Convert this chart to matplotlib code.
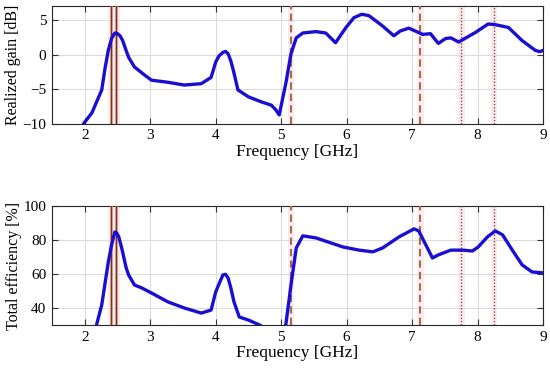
import numpy as np
import matplotlib
matplotlib.use('Agg')
import matplotlib.pyplot as plt

plt.rcParams['font.family'] = ['Liberation Serif', 'DejaVu Serif']
plt.rcParams['mathtext.fontset'] = 'stix'

# Realized gain [dB] vs frequency [GHz]
gain_freq = [1.98, 2.11, 2.26, 2.31, 2.36, 2.41, 2.46, 2.5, 2.54, 2.58, 2.62, 2.67,
             2.76, 2.92, 3.02, 3.27, 3.52, 3.78, 3.93, 4.0, 4.05, 4.11, 4.15, 4.19,
             4.23, 4.27, 4.34, 4.5, 4.69, 4.85, 4.92, 4.97, 5.07, 5.15, 5.23, 5.33,
             5.53, 5.68, 5.83, 5.99, 6.11, 6.23, 6.34, 6.55, 6.72, 6.82, 6.95, 7.16,
             7.28, 7.4, 7.51, 7.59, 7.71, 7.97, 8.16, 8.27, 8.47, 8.68, 8.88, 8.95, 9.0]
gain_db = [-10.0, -8.4, -5.1, -2.0, 0.6, 2.3, 3.1, 3.0, 2.7, 2.0, 0.9, -0.4,
           -1.8, -3.0, -3.7, -4.0, -4.4, -4.2, -3.3, -1.1, -0.2, 0.3, 0.45, 0.1,
           -0.9, -2.3, -5.1, -6.1, -6.8, -7.3, -8.0, -8.7, -4.2, 0.1, 2.4, 3.1,
           3.3, 3.1, 1.7, 3.9, 5.3, 5.8, 5.6, 4.1, 2.7, 3.4, 3.8, 2.9,
           3.0, 1.6, 2.3, 2.4, 1.8, 3.2, 4.4, 4.3, 3.9, 2.0, 0.6, 0.4, 0.6]

# Total efficiency [%] vs frequency [GHz]
eff_freq = [2.1, 2.18, 2.26, 2.36, 2.41, 2.46, 2.49, 2.52, 2.56, 2.59, 2.63, 2.67,
            2.76, 2.87, 3.02, 3.27, 3.52, 3.78, 3.93, 4.0, 4.06, 4.11, 4.15, 4.19,
            4.23, 4.28, 4.36, 4.5, 4.67, 4.8, 4.95, 5.07, 5.15, 5.23, 5.33, 5.53,
            5.94, 6.19, 6.4, 6.55, 6.8, 7.03, 7.1, 7.21, 7.31, 7.4, 7.59, 7.77,
            7.92, 8.01, 8.15, 8.27, 8.38, 8.53, 8.68, 8.83, 9.0]
eff_pct = [20.0, 30.0, 41.8, 67.0, 77.0, 84.7, 84.0, 81.8, 76.0, 71.0, 64.0, 59.4,
           53.5, 51.8, 48.8, 43.6, 40.0, 37.0, 38.8, 49.4, 55.0, 59.4, 59.8, 57.6,
           52.0, 43.5, 34.7, 32.9, 30.0, 27.0, 20.0, 30.0, 53.5, 75.3, 82.4, 81.2,
           75.9, 74.0, 73.0, 75.3, 81.8, 86.5, 85.3, 77.0, 69.4, 71.2, 74.0, 74.0,
           73.5, 75.9, 81.8, 85.3, 83.0, 74.0, 65.3, 61.2, 60.6]

# band markers [GHz]
solid_marks = [2.4, 2.485]
dashed_marks = [5.15, 7.125]
dotted_marks = [7.75, 8.25]

fig = plt.figure(figsize=(5.5, 3.71), dpi=100)
ax1 = fig.add_axes([0.0945, 0.666, 0.893, 0.318])
ax2 = fig.add_axes([0.0945, 0.124, 0.893, 0.321])

line_color = '#1a0ed2'


def decorate(ax):
    for f in solid_marks + dashed_marks + dotted_marks:
        ax.axvspan(f - 0.05, f + 0.05, color='#fdeaf1', lw=0, zorder=0)
    for f in solid_marks:
        ax.axvline(f, color='#e8a0a0', lw=1.8, zorder=3)
        ax.axvline(f, color='#6e3a14', lw=1.0, zorder=3)
    for f in dashed_marks:
        ax.axvline(f, color='#9c6f48', lw=1.5, ls=(0, (3.5, 2)), zorder=3)
    for f in dotted_marks:
        ax.axvline(f, color='#7d5436', lw=1.0, ls=(0, (1, 1.3)), zorder=3)
    ax.set_xlim(1.5, 9)
    ax.set_xticks([2, 3, 4, 5, 6, 7, 8, 9])
    ax.grid(True, color='#dcdcdc', lw=0.8, zorder=1)
    ax.set_axisbelow(True)
    ax.tick_params(direction='in', top=True, right=True, labelsize=11,
                   length=4, width=0.8, color='#333333', pad=4)
    for s in ax.spines.values():
        s.set_color('#262626')
        s.set_linewidth(0.8)
    ax.set_xlabel('Frequency [GHz]', fontsize=12.5, labelpad=1)


ax1.plot(gain_freq, gain_db, color=line_color, lw=2.4, zorder=4,
         solid_joinstyle='round', solid_capstyle='round')
decorate(ax1)
ax1.set_ylim(-10, 7)
ax1.set_yticks([-10, -5, 0, 5])
ax1.set_ylabel('Realized gain [dB]', fontsize=11.5, labelpad=1)

ax2.plot(eff_freq, eff_pct, color=line_color, lw=2.4, zorder=4,
         solid_joinstyle='round', solid_capstyle='round')
decorate(ax2)
ax2.set_ylim(30, 100)
ax2.set_yticks([40, 60, 80, 100])
ax2.set_ylabel('Total efficiency [%]', fontsize=11.5, labelpad=1)

fig.savefig('out.png', dpi=100)
